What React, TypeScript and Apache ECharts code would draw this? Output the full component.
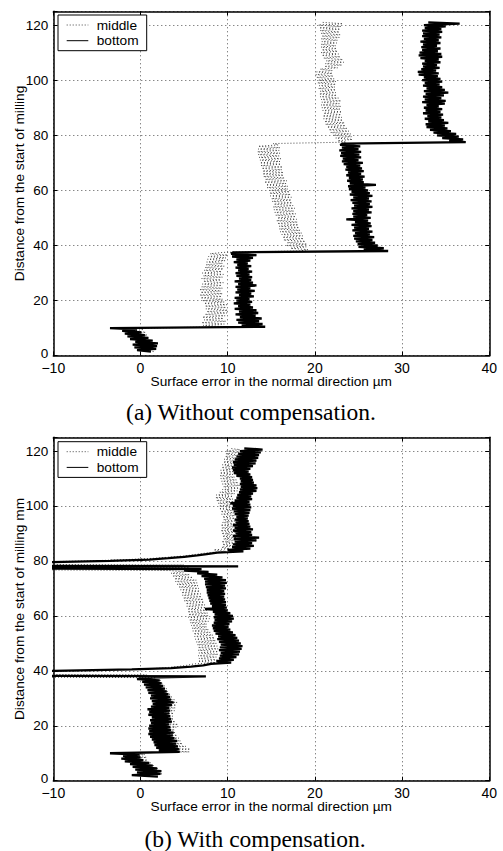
import { useEffect, useRef } from "react";
import * as echarts from "echarts";

// Axis ranges and labels
const X_MIN = -10;
const X_MAX = 40;
const X_STEP = 10;
const Y_MIN = 0;
const Y_MAX = 125;
const Y_STEP = 20;
const SERIES_NAMES = ["middle", "bottom"];
const X_TITLE = "Surface error in the normal direction \u00b5m";
const Y_TITLE_A = "Distance from the start of milling";
const Y_TITLE_B = "Distance from the start of milling mm";
const CAPTION_A = "(a) Without compensation.";
const CAPTION_B = "(b) With compensation.";

// Samples run along the cut from 1.5 mm in 0.5 mm steps; every trace is
// split into its four layers (1.5-10, 10.5-37.5, 38-77, 77.5-121 mm).
const FIRST_DISTANCE = 1.5;
const DISTANCE_STEP = 0.5;

// ---- (a) without compensation: surface error (µm) ----
const aMiddleL1 = [1.5, 0.2, 1.6, 0.0, 1.4, -0.2, 1.7, 0.1, 1.3, -0.3, 1.0, -0.5, 0.8, -0.8, 0.6, -0.9, 0.3, -0.2];
const aMiddleL2 = [
  9.9, 7.2, 9.6, 7.0, 9.8, 7.3, 9.5, 7.1, 9.7, 7.4,
  9.9, 7.6, 10.0, 7.5, 9.8, 7.4, 9.9, 7.3, 9.6, 7.1,
  9.4, 6.9, 9.3, 6.8, 9.4, 6.9, 9.2, 6.8, 9.4, 7.0,
  9.3, 7.1, 9.5, 7.2, 9.2, 7.0, 9.4, 7.2, 9.5, 7.1,
  9.3, 7.3, 9.5, 7.4, 9.6, 7.5, 9.4, 7.6, 9.7, 7.7,
  9.8, 7.8, 10.0, 8.0, 9.5,
];
const aMiddleL3 = [
  18.2, 19.2, 17.2, 19.0, 16.7, 19.1, 16.8, 18.9, 16.4, 18.7,
  16.3, 18.6, 16.2, 18.5, 16.0, 18.3, 15.9, 18.2, 15.9, 18.1,
  15.7, 18.0, 15.6, 17.9, 15.7, 17.8, 15.5, 17.8, 15.4, 17.6,
  15.3, 17.7, 15.2, 17.5, 15.3, 17.4, 15.1, 17.3, 15.0, 17.3,
  14.9, 17.2, 14.8, 17.1, 14.8, 16.9, 14.5, 16.9, 14.4, 16.7,
  14.2, 16.8, 14.3, 16.5, 14.1, 16.4, 14.0, 16.4, 14.0, 16.2,
  13.9, 16.3, 13.8, 16.1, 13.7, 16.0, 13.7, 16.1, 13.6, 15.9,
  13.5, 16.0, 13.4, 15.9, 13.5, 16.0, 13.5, 15.8, 15.2,
];
const aMiddleL4 = [
  23.6, 22.6, 24.3, 22.4, 24.2, 22.1, 24.1, 21.8, 23.9, 21.6,
  23.7, 21.4, 23.5, 21.2, 23.4, 21.1, 23.2, 21.0, 23.1, 20.9,
  23.0, 21.0, 23.1, 20.9, 22.9, 20.8, 23.0, 20.7, 22.8, 20.8,
  23.0, 20.7, 22.7, 20.6, 22.5, 20.5, 22.4, 20.6, 22.4, 20.4,
  22.3, 20.5, 22.4, 20.3, 22.4, 20.4, 22.2, 20.2, 22.1, 20.1,
  22.0, 20.2, 22.0, 20.6, 22.6, 21.1, 23.1, 21.2, 23.3, 21.3,
  23.2, 21.0, 22.9, 20.8, 22.7, 20.7, 22.6, 20.8, 22.5, 20.7,
  22.4, 20.7, 22.5, 20.8, 22.6, 20.7, 22.8, 20.8, 22.9, 20.7,
  22.8, 20.6, 22.9, 20.5, 23.0, 20.4, 23.2, 20.8,
];
const aBottomL1 = [1.2, -0.4, 1.8, -0.7, 1.9, -0.9, 2.0, -0.6, 1.4, -1.2, 0.9, -1.5, 0.5, -1.8, 0.1, -2.1, -0.4, -3.5];
const aBottomL2 = [
  14.3, 11.6, 14.0, 11.2, 13.6, 11.0, 13.9, 11.4, 13.2, 10.9,
  13.5, 11.3, 13.3, 10.8, 12.9, 11.2, 12.6, 10.7, 12.8, 11.0,
  12.5, 10.8, 13.0, 11.3, 12.7, 10.9, 13.1, 11.1, 12.6, 10.9,
  13.3, 11.2, 12.9, 10.8, 12.7, 11.3, 12.8, 11.0, 12.5, 10.9,
  12.8, 11.2, 12.4, 10.9, 12.7, 11.1, 12.3, 10.7, 12.6, 11.0,
  12.9, 10.5, 13.3, 10.4, 10.6,
];
const aBottomL3 = [
  28.4, 25.6, 27.9, 25.0, 27.2, 24.9, 26.9, 24.7, 26.6, 24.5,
  26.8, 24.4, 26.3, 24.6, 26.6, 24.3, 26.2, 24.5, 26.5, 24.2,
  26.4, 24.6, 26.1, 23.6, 26.4, 24.4, 26.0, 24.3, 26.5, 24.4,
  26.2, 24.2, 26.6, 24.5, 26.3, 24.3, 26.5, 24.1, 26.2, 24.4,
  26.6, 24.0, 26.3, 24.2, 26.1, 23.9, 25.8, 23.8, 27.0, 24.0,
  25.6, 23.7, 25.5, 23.9, 25.7, 23.6, 25.3, 23.8, 25.6, 23.5,
  25.4, 23.6, 25.2, 23.3, 25.5, 23.1, 25.0, 23.2, 25.3, 22.9,
  25.1, 23.0, 25.3, 22.8, 25.0, 23.1, 25.2, 22.9, 23.2,
];
const aBottomL4 = [
  37.3, 35.4, 37.0, 34.6, 36.5, 34.0, 36.2, 33.6, 35.6, 33.2,
  35.2, 32.8, 34.9, 32.7, 35.3, 33.0, 34.8, 32.6, 34.5, 32.9,
  34.7, 32.4, 34.4, 32.7, 34.6, 32.5, 34.2, 32.8, 34.9, 32.3,
  35.0, 32.6, 34.5, 32.4, 34.8, 32.7, 35.3, 32.5, 34.9, 32.8,
  34.6, 32.4, 34.3, 32.6, 34.6, 32.3, 34.4, 32.5, 34.1, 31.9,
  34.2, 31.8, 33.9, 32.2, 34.3, 32.4, 34.0, 32.3, 34.4, 32.6,
  34.2, 32.1, 34.6, 31.9, 34.5, 32.0, 34.1, 32.3, 34.4, 32.2,
  34.0, 32.4, 34.4, 32.1, 34.2, 32.5, 34.5, 32.3, 34.3, 32.4,
  34.6, 32.3, 34.5, 32.6, 35.0, 32.5, 36.6, 33.0,
];

// ---- (b) with compensation: surface error (µm) ----
const bMiddleL1 = [1.8, -0.5, 2.5, 0.0, 2.4, -0.3, 2.0, -0.5, 1.6, -0.7, 1.2, -1.2, 0.8, -1.5, 0.7, -1.3, 0.5, -2.8];
const bMiddleL2 = [
  5.6, 2.6, 5.7, 2.3, 5.2, 2.0, 4.8, 1.8, 4.6, 1.6,
  4.4, 1.5, 4.2, 1.3, 4.0, 1.2, 3.9, 1.4, 4.1, 1.5,
  4.3, 1.6, 4.0, 1.5, 3.8, 1.4, 3.7, 1.3, 3.8, 1.5,
  3.9, 1.6, 4.0, 1.7, 4.1, 1.8, 4.2, 1.7, 3.9, 1.5,
  3.6, 1.4, 3.4, 1.2, 3.2, 1.1, 3.0, 0.9, 2.8, 0.7,
  2.6, 0.6, 2.4, 0.4, 1.8,
];
const bMiddleL3 = [
  -30, 0.7, -30, -13, -5, -0.5, 2.4, 4.1, 5.3, 6.1,
  8.6, 6.6, 8.8, 6.7, 8.7, 6.6, 8.9, 6.7, 8.9, 6.6,
  8.9, 6.6, 8.8, 6.5, 8.7, 6.4, 8.6, 6.3, 8.5, 6.2,
  8.3, 6.1, 8.0, 6.0, 7.8, 5.9, 7.6, 5.8, 7.6, 5.7,
  7.8, 5.6, 7.9, 5.5, 7.8, 5.5, 7.7, 5.4, 7.6, 5.4,
  7.5, 5.3, 7.4, 5.2, 7.3, 5.0, 7.2, 4.9, 7.0, 4.8,
  6.9, 4.7, 6.8, 4.6, 6.7, 4.4, 6.6, 4.2, 6.5, 4.0,
  6.4, 3.9, 6.0, 3.7, 5.6, 3.5, 5.0, 3.4, -30,
];
const bMiddleL4 = [
  5.6, -30, 5.0, -30, -14, -6, -1.5, 1.8, 3.8, 5.5,
  6.6, 7.8, 9.8, 8.4, 10.2, 9.3, 10.6, 9.4, 10.7, 9.3,
  10.9, 9.5, 11.0, 9.4, 10.9, 9.3, 11.0, 9.2, 10.9, 9.3,
  11.0, 9.2, 10.9, 9.4, 10.8, 9.5, 10.8, 9.4, 10.8, 9.3,
  10.7, 9.2, 10.8, 9.0, 10.7, 9.0, 10.8, 8.9, 10.7, 8.7,
  10.6, 8.6, 10.6, 8.7, 10.8, 9.1, 11.1, 9.4, 11.3, 9.5,
  11.4, 9.4, 11.2, 9.3, 11.0, 9.2, 10.8, 9.1, 10.6, 9.1,
  10.6, 9.2, 10.7, 9.3, 10.8, 9.4, 10.9, 9.5, 11.0, 9.6,
  11.1, 9.7, 11.2, 9.8, 11.3, 9.8, 11.4, 10.2,
];
const bBottomL1 = [2.0, -1.0, 2.3, -0.4, 2.4, -0.6, 1.9, -0.9, 1.4, -1.2, 1.0, -1.8, 0.3, -2.2, 0.0, -2.0, -0.1, -3.5];
const bBottomL2 = [
  4.5, 2.1, 4.4, 1.8, 4.3, 1.6, 4.1, 1.5, 4.2, 1.3,
  3.9, 1.1, 3.7, 0.9, 3.8, 1.0, 3.5, 0.9, 3.4, 1.0,
  3.3, 1.2, 3.6, 1.1, 3.5, 1.3, 3.4, 0.9, 3.3, 1.0,
  3.4, 0.8, 3.3, 1.2, 3.6, 1.4, 3.8, 1.3, 3.5, 1.1,
  3.4, 1.2, 3.2, 0.9, 3.0, 0.8, 2.8, 0.6, 2.6, 0.4,
  2.4, 0.2, 2.2, -0.4, 1.0,
];
const bBottomL3 = [
  7.5, -40, -30, -20, -10, -1.0, 3.5, 5.8, 7.2, 8.1,
  10.4, 8.7, 10.7, 9.0, 11.0, 9.1, 11.3, 9.2, 11.4, 9.0,
  11.6, 9.1, 11.7, 9.2, 11.5, 9.0, 11.3, 8.8, 11.1, 8.9,
  10.9, 8.6, 10.6, 8.4, 10.3, 8.3, 10.1, 8.2, 10.2, 8.4,
  10.5, 8.5, 10.7, 8.4, 10.6, 8.5, 10.3, 8.3, 10.0, 7.4,
  9.9, 8.2, 9.8, 8.0, 9.8, 7.9, 9.7, 7.8, 9.6, 7.7,
  9.7, 7.6, 9.6, 7.6, 9.8, 7.5, 9.7, 7.4, 9.9, 7.4,
  9.8, 7.3, 9.4, 7.0, 8.8, 6.5, 7.8, 5.0, 7.0,
];
const bBottomL4 = [
  -40, 11.2, -40, -25, -11, -3.5, 1.0, 3.2, 5.0, 6.5,
  7.6, 8.8, 11.8, 10.0, 12.6, 10.5, 13.0, 10.6, 12.8, 10.8,
  13.3, 10.7, 13.6, 10.6, 12.8, 10.9, 12.7, 10.6, 12.9, 10.8,
  12.6, 10.6, 12.5, 10.9, 12.4, 10.8, 12.3, 11.0, 12.4, 10.8,
  12.5, 10.7, 12.6, 10.5, 12.7, 10.6, 12.6, 10.3, 12.5, 10.8,
  12.8, 11.0, 12.7, 11.1, 12.9, 11.3, 13.3, 11.4, 13.4, 11.5,
  13.3, 11.4, 13.0, 11.5, 12.9, 11.4, 12.8, 11.0, 12.6, 10.7,
  12.4, 10.6, 12.6, 10.5, 12.9, 10.7, 13.2, 10.6, 13.3, 10.8,
  13.5, 11.0, 13.6, 11.2, 13.8, 11.4, 14.0, 11.9,
];

const SANS = "'Liberation Sans', Arial, Helvetica, sans-serif";
const SERIF = "'Liberation Serif', 'Times New Roman', serif";
const MIDDLE_DASH = [1, 2];
const MIDDLE_COLOR = "#444";

// Pair each error value with its distance along the cut.
function toPoints(layers: number[][]): [number, number][] {
  return layers.flat().map((x, i) => [x, FIRST_DISTANCE + i * DISTANCE_STEP]);
}

const minus = (v: number) => String(v).replace("-", "\u2212");

function panelAxes(gridIndex: number, yTitle: string) {
  const line = { show: true, onZero: false, lineStyle: { color: "#000", width: 1.5 } };
  const tick = { show: true, inside: true, length: 4, lineStyle: { color: "#000", width: 1 } };
  const grid = { show: true, lineStyle: { color: "#555", width: 1, type: [1, 3] } };
  const xAxes = [
    {
      type: "value", gridIndex, position: "bottom", min: X_MIN, max: X_MAX, interval: X_STEP,
      axisLine: line, axisTick: tick, splitLine: grid,
      axisLabel: { color: "#000", fontSize: 14, fontFamily: SANS, margin: 6, lineHeight: 12, formatter: minus },
      name: X_TITLE, nameLocation: "middle", nameGap: 19, nameMoveOverlap: false,
      nameTextStyle: { color: "#000", fontSize: 13.7, fontFamily: SANS },
    },
    {
      type: "value", gridIndex, position: "top", min: X_MIN, max: X_MAX, interval: X_STEP,
      axisLine: line, axisTick: tick, splitLine: { show: false }, axisLabel: { show: false },
    },
  ];
  const yAxes = [
    {
      type: "value", gridIndex, position: "left", min: Y_MIN, max: Y_MAX, interval: Y_STEP,
      axisLine: line, axisTick: tick, splitLine: grid,
      axisLabel: {
        color: "#000", fontSize: 13.5, fontFamily: SANS, margin: 5, lineHeight: 9,
        // the zero label sits a little higher so it clears the x-axis labels
        formatter: (v: number) => (v === Y_MIN ? `{low|${v}}` : v % Y_STEP === 0 ? String(v) : ""),
        rich: { low: { fontSize: 13.5, fontFamily: SANS, color: "#000", lineHeight: 9, padding: [0, 0, 5, 0] } },
      },
      name: yTitle, nameLocation: "middle", nameGap: 27, nameMoveOverlap: false,
      nameTextStyle: { color: "#000", fontSize: 13.7, fontFamily: SANS },
    },
    {
      type: "value", gridIndex, position: "right", min: Y_MIN, max: Y_MAX, interval: Y_STEP,
      axisLine: line, axisTick: tick, splitLine: { show: false }, axisLabel: { show: false },
    },
  ];
  return { xAxes, yAxes };
}

function panelSeries(axisIndex: number, middle: number[][], bottom: number[][]) {
  return [
    {
      type: "line", name: SERIES_NAMES[0], xAxisIndex: axisIndex, yAxisIndex: axisIndex,
      data: toPoints(middle), symbol: "none", showSymbol: false, silent: true, z: 2,
      lineStyle: { color: MIDDLE_COLOR, width: 1, type: MIDDLE_DASH },
    },
    {
      type: "line", name: SERIES_NAMES[1], xAxisIndex: axisIndex, yAxisIndex: axisIndex,
      data: toPoints(bottom), symbol: "none", showSymbol: false, silent: true, z: 3,
      lineStyle: { color: "#000", width: 2.3 },
    },
  ];
}

// Boxed key in the top-left corner of a panel.
function panelKey(top: number) {
  const left = 58;
  const rowY = [top + 10, top + 25.7];
  return {
    type: "group",
    z: 100,
    children: [
      {
        type: "rect", z: 100,
        shape: { x: left, y: top, width: 88.7, height: 35.7 },
        style: { fill: "#fff", stroke: "#000", lineWidth: 1 },
      },
      {
        type: "line", z: 101,
        shape: { x1: left + 8.7, y1: rowY[0], x2: left + 30.3, y2: rowY[0] },
        style: { stroke: MIDDLE_COLOR, lineWidth: 1, lineDash: MIDDLE_DASH },
      },
      {
        type: "line", z: 101,
        shape: { x1: left + 8.7, y1: rowY[1], x2: left + 30.3, y2: rowY[1] },
        style: { stroke: "#000", lineWidth: 1 },
      },
      ...SERIES_NAMES.map((name, i) => ({
        type: "text", z: 101, x: left + 38.7, y: rowY[i],
        style: {
          text: name, fill: "#000", font: `13.7px ${SANS}`,
          textAlign: "left", textVerticalAlign: "middle", align: "left", verticalAlign: "middle",
        },
      })),
    ],
  };
}

function caption(text: string, x: number, y: number) {
  return {
    type: "text", x, y,
    style: {
      text, fill: "#000", font: `23.5px ${SERIF}`,
      textAlign: "center", textVerticalAlign: "middle", align: "center", verticalAlign: "middle",
    },
  };
}

export default function App() {
  const ref = useRef<HTMLDivElement>(null);

  useEffect(() => {
    if (!ref.current) return;
    const chart = echarts.init(ref.current, undefined, { renderer: "svg" });
    const a = panelAxes(0, Y_TITLE_A);
    const b = panelAxes(1, Y_TITLE_B);
    chart.setOption({
      animation: false,
      backgroundColor: "#fff",
      grid: [
        { left: 53.3, top: 11.3, width: 436, height: 344.4, outerBoundsMode: "none" },
        { left: 53.3, top: 437.3, width: 436, height: 343.4, outerBoundsMode: "none" },
      ],
      xAxis: [...a.xAxes, ...b.xAxes],
      yAxis: [...a.yAxes, ...b.yAxes],
      series: [
        ...panelSeries(0, [aMiddleL1, aMiddleL2, aMiddleL3, aMiddleL4], [aBottomL1, aBottomL2, aBottomL3, aBottomL4]),
        ...panelSeries(2, [bMiddleL1, bMiddleL2, bMiddleL3, bMiddleL4], [bBottomL1, bBottomL2, bBottomL3, bBottomL4]),
      ],
      graphic: [
        panelKey(15),
        panelKey(441.7),
        caption(CAPTION_A, 251, 412),
        caption(CAPTION_B, 255, 839),
      ],
    });
    return () => chart.dispose();
  }, []);

  return (
    <div
      ref={ref}
      style={{ position: "absolute", left: 0, top: 0, width: 503, height: 851, background: "#fff" }}
    />
  );
}
